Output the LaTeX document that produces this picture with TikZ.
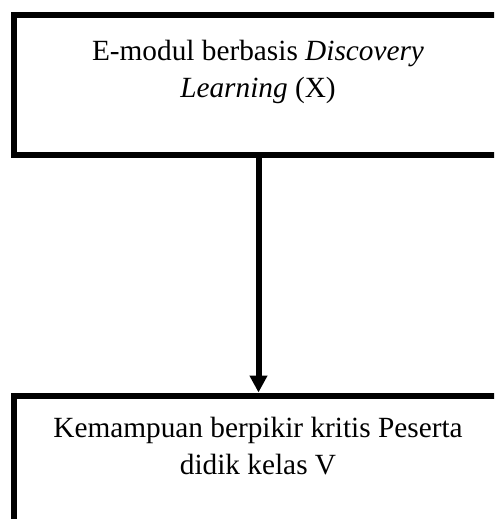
\documentclass[tikz,border=0pt]{standalone}
\usepackage{fontspec}
\setmainfont{Liberation Serif}
\usetikzlibrary{arrows.meta}

\begin{document}
\begin{tikzpicture}[x=0.5pt,y=-0.5pt,
kotak/.style={draw,line width=3pt,minimum width=244.5pt,minimum height=69.75pt,inner sep=0pt},
teks/.style={anchor=north,align=center,inner sep=0pt,font=\fontsize{14.65}{18.3}\selectfont}]
\useasboundingbox (0,0) rectangle (494,519);
\clip (0,0) rectangle (494,519);
\node[kotak] (modul) at (258.5,84.75) {};
\node[kotak] (kritis) at (258.5,465.25) {};
\node[teks] (modtxt) at (258,40) {E-modul berbasis \textit{Discovery}\\ \textit{Learning} (X)};
\node[teks] (krtxt) at (258,417) {Kemampuan berpikir kritis Peserta\\ didik kelas V};
\draw[line width=3pt,-{Triangle[length=8.5pt,width=8.5pt]}] (modul.south) -- (kritis.north);
\end{tikzpicture}
\end{document}
